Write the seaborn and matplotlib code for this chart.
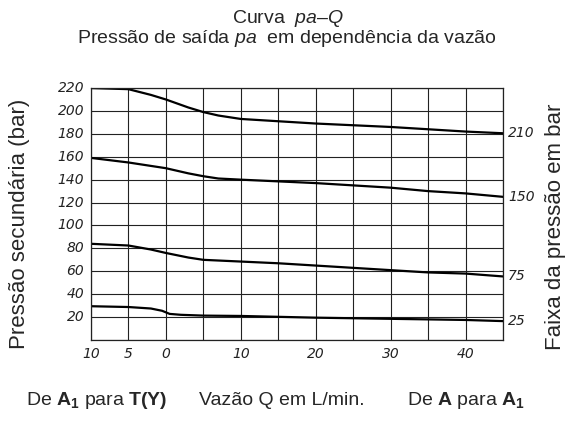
import pandas as pd
import seaborn as sns

import matplotlib
matplotlib.use('Agg')
import matplotlib.pyplot as plt

# curve data (flow Q in L/min, pressure in bar)
q_210 = [-10, -5, -2, 0, 3, 5, 7, 10, 20, 30, 35, 40, 45]
p_210 = [220, 219, 214, 210, 203, 199, 196, 193, 189, 186, 184, 182, 180.5]

q_150 = [-10, -5, -2, 0, 3, 5, 7, 10, 20, 30, 35, 40, 45]
p_150 = [159, 155, 152, 150, 145.5, 143, 141, 140, 137, 133, 130, 128, 125]

q_75 = [-10, -5, -2, 0, 3, 5, 10, 15, 20, 25, 30, 35, 40, 45]
p_75 = [84, 82.5, 79, 76, 72, 70, 68.5, 67, 65, 63, 61, 59, 58, 55.5]

q_25 = [-10, -5, -2, -0.5, 0.5, 2, 5, 10, 20, 30, 35, 40, 45]
p_25 = [29.5, 28.8, 27.5, 25.5, 22.8, 22, 21.3, 21, 19.5, 18.5, 18, 17.5, 16.5]

range_labels = ["210", "150", "75", "25"]
x_ticks = [-10, -5, 0, 10, 20, 30, 40]
x_tick_labels = ["10", "5", "0", "10", "20", "30", "40"]
y_ticks = list(range(20, 221, 20))

frames = []
for lab, q, p in zip(range_labels, [q_210, q_150, q_75, q_25], [p_210, p_150, p_75, p_25]):
    frames.append(pd.DataFrame({"Q": q, "p": p, "faixa": lab}))
df = pd.concat(frames, ignore_index=True)

sns.set_style("white")
plt.rcParams['font.family'] = ['Liberation Sans', 'DejaVu Sans']
plt.rcParams['mathtext.fontset'] = 'custom'
plt.rcParams['mathtext.rm'] = 'Liberation Sans'
plt.rcParams['mathtext.it'] = 'Liberation Sans:italic'
plt.rcParams['mathtext.bf'] = 'Liberation Sans:bold'

fig = plt.figure(figsize=(5.7, 4.23), dpi=100)
ax = fig.add_axes([0.1596, 0.1962, 0.7228, 0.5957])

sns.lineplot(data=df, x="Q", y="p", units="faixa", estimator=None,
             color="black", linewidth=1.6, ax=ax, legend=False)

ax.set_xlim(-10, 45)
ax.set_ylim(0, 220)
ax.set_xticks(range(-10, 46, 5))
ax.set_yticks(range(0, 221, 20))
ax.grid(True, color="#222222", linewidth=0.8)
ax.set_axisbelow(True)
for s in ax.spines.values():
    s.set_color("#222222")
    s.set_linewidth(0.9)

ax.set_xticklabels(["" for _ in range(-10, 46, 5)])
ax.set_yticklabels(["" for _ in range(0, 221, 20)])
ax.tick_params(length=0)
ax.set_xlabel("")
ax.set_ylabel("")

tick_font = dict(family="DejaVu Sans", style="italic", fontsize=10,
                 color="#222222")
for x, t in zip(x_ticks, x_tick_labels):
    ax.text(x, -6, t, ha="center", va="top", **tick_font)
for y in y_ticks:
    ax.text(-10.9, y, str(y), ha="right", va="center", **tick_font)

ends = [p_210[-1], p_150[-1], p_75[-1], p_25[-1]]
for lab, y in zip(range_labels, ends):
    ax.text(45.7, y, lab, ha="left", va="center", **tick_font)

fig.text(0.035, 0.470, "Pressão secundária (bar)", rotation=90,
         ha="center", va="center", fontsize=16)
fig.text(0.974, 0.463, "Faixa da pressão em bar", rotation=90,
         ha="center", va="center", fontsize=16)

fig.text(0.505, 0.957, r"Curva  $\mathit{pa}$–$\mathit{Q}$",
         ha="center", va="center", fontsize=14)
fig.text(0.503, 0.908, r"Pressão de saída $\mathit{pa}$  em dependência da vazão",
         ha="center", va="center", fontsize=14)

fig.text(0.170, 0.054, r"De $\mathbf{A_1}$ para $\mathbf{T(Y)}$",
         ha="center", va="center", fontsize=14)
fig.text(0.495, 0.054, "Vazão Q em L/min.", ha="center", va="center", fontsize=14)
fig.text(0.818, 0.054, r"De $\mathbf{A}$ para $\mathbf{A_1}$",
         ha="center", va="center", fontsize=14)

fig.savefig("out.png", dpi=100)
